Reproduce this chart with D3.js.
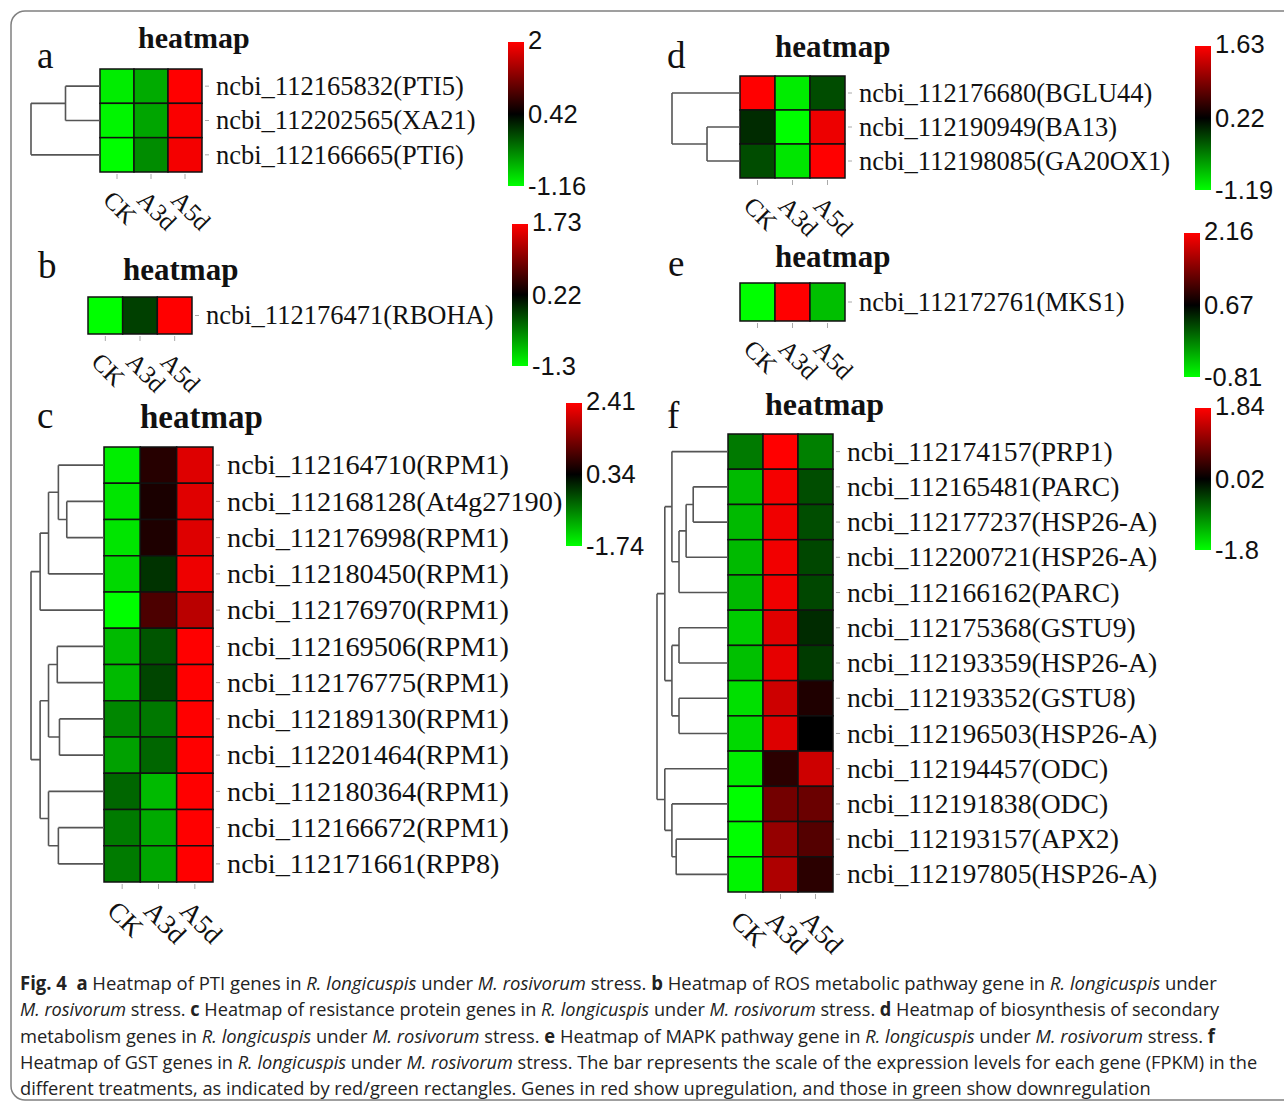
<!DOCTYPE html>
<html>
<head>
<meta charset="utf-8">
<script src="https://cdn.jsdelivr.net/npm/d3@7"></script>
<style>
  body { margin: 0; background: #fff; }
  svg { display: block; }
</style>
</head>
<body>
<svg id="fig" width="1284" height="1105"></svg>
<script>
//////////////// Daten ////////////////////
const columns = ["CK", "A3d", "A5d"];

// a: PTI genes
const genesA = ["ncbi_112165832(PTI5)", "ncbi_112202565(XA21)", "ncbi_112166665(PTI6)"];
const valuesA = [
  [-1.05, -0.64, 2.0],
  [-1.1, -0.6, 1.97],
  [-1.16, -0.45, 1.93]
];
const legendA = [-1.16, 0.42, 2];
const treeA = {h: 1, c: [{h: 0.5, c: [0, 1]}, 2]};

// b: ROS
const genesB = ["ncbi_112176471(RBOHA)"];
const valuesB = [[-1.3, -0.16, 1.73]];
const legendB = [-1.3, 0.22, 1.73];

// c: resistance proteins
const genesC = ["ncbi_112164710(RPM1)", "ncbi_112168128(At4g27190)", "ncbi_112176998(RPM1)",
  "ncbi_112180450(RPM1)", "ncbi_112176970(RPM1)", "ncbi_112169506(RPM1)", "ncbi_112176775(RPM1)",
  "ncbi_112189130(RPM1)", "ncbi_112201464(RPM1)", "ncbi_112180364(RPM1)", "ncbi_112166672(RPM1)",
  "ncbi_112171661(RPP8)"];
const valuesC = [
  [-1.6, 0.65, 2.14],
  [-1.53, 0.55, 2.16],
  [-1.53, 0.58, 2.14],
  [-1.43, -0.08, 2.27],
  [-1.74, 0.96, 1.85],
  [-1.18, -0.35, 2.41],
  [-1.18, -0.22, 2.41],
  [-0.76, -0.64, 2.41],
  [-0.97, -0.49, 2.41],
  [-0.49, -1.18, 2.41],
  [-0.66, -1.05, 2.41],
  [-0.66, -1.01, 2.41]
];
const legendC = [-1.74, 0.34, 2.41];
const treeC = {h: 1, c: [
  {h: 0.875, c: [{h: 0.76, c: [{h: 0.625, c: [0, {h: 0.51, c: [1, 2]}]}, 3]}, 4]},
  {h: 0.875, c: [
    {h: 0.76, c: [{h: 0.64, c: [5, 6]}, {h: 0.61, c: [7, 8]}]},
    {h: 0.76, c: [9, {h: 0.625, c: [10, 11]}]}
  ]}
]};

// d: secondary metabolism
const genesD = ["ncbi_112176680(BGLU44)", "ncbi_112190949(BA13)", "ncbi_112198085(GA20OX1)"];
const valuesD = [
  [1.63, -1.09, -0.2],
  [-0.02, -1.19, 1.53],
  [-0.2, -1.05, 1.63]
];
const legendD = [-1.19, 0.22, 1.63];
const treeD = {h: 1, c: [0, {h: 0.485, c: [1, 2]}]};

// e: MAPK
const genesE = ["ncbi_112172761(MKS1)"];
const valuesE = [[-0.81, 2.16, -0.44]];
const legendE = [-0.81, 0.67, 2.16];

// f: GST
const genesF = ["ncbi_112174157(PRP1)", "ncbi_112165481(PARC)", "ncbi_112177237(HSP26-A)",
  "ncbi_112200721(HSP26-A)", "ncbi_112166162(PARC)", "ncbi_112175368(GSTU9)", "ncbi_112193359(HSP26-A)",
  "ncbi_112193352(GSTU8)", "ncbi_112196503(HSP26-A)", "ncbi_112194457(ODC)", "ncbi_112191838(ODC)",
  "ncbi_112193157(APX2)", "ncbi_112197805(HSP26-A)"];
const valuesF = [
  [-0.85, 1.84, -0.89],
  [-1.31, 1.77, -0.53],
  [-1.31, 1.73, -0.53],
  [-1.31, 1.75, -0.49],
  [-1.29, 1.73, -0.49],
  [-1.44, 1.62, -0.29],
  [-1.35, 1.66, -0.4],
  [-1.58, 1.48, 0.24],
  [-1.53, 1.6, 0.02],
  [-1.67, 0.33, 1.48],
  [-1.8, 0.84, 0.78],
  [-1.8, 1.08, 0.62],
  [-1.73, 1.26, 0.33]
];
const legendF = [-1.8, 0.02, 1.84];
const treeF = {h: 1, c: [
  {h: 0.89, c: [
    {h: 0.79, c: [0, {h: 0.69, c: [{h: 0.59, c: [{h: 0.49, c: [1, 2]}, 3]}, 4]}]},
    {h: 0.79, c: [{h: 0.69, c: [5, 6]}, {h: 0.69, c: [7, 8]}]}
  ]},
  {h: 0.89, c: [9, {h: 0.79, c: [10, {h: 0.73, c: [11, 12]}]}]}
]};

// Bildunterschrift (b = fett, i = kursiv, n = normal)
const captionLines = [
  [["b", "Fig. 4"], ["n", "  "], ["b", "a"], ["n", " Heatmap of PTI genes in "], ["i", "R. longicuspis"], ["n", " under "], ["i", "M. rosivorum"], ["n", " stress. "], ["b", "b"], ["n", " Heatmap of ROS metabolic pathway gene in "], ["i", "R. longicuspis"], ["n", " under"]],
  [["i", "M. rosivorum"], ["n", " stress. "], ["b", "c"], ["n", " Heatmap of resistance protein genes in "], ["i", "R. longicuspis"], ["n", " under "], ["i", "M. rosivorum"], ["n", " stress. "], ["b", "d"], ["n", " Heatmap of biosynthesis of secondary"]],
  [["n", "metabolism genes in "], ["i", "R. longicuspis"], ["n", " under "], ["i", "M. rosivorum"], ["n", " stress. "], ["b", "e"], ["n", " Heatmap of MAPK pathway gene in "], ["i", "R. longicuspis"], ["n", " under "], ["i", "M. rosivorum"], ["n", " stress. "], ["b", "f"]],
  [["n", "Heatmap of GST genes in "], ["i", "R. longicuspis"], ["n", " under "], ["i", "M. rosivorum"], ["n", " stress. The bar represents the scale of the expression levels for each gene (FPKM) in the"]],
  [["n", "different treatments, as indicated by red/green rectangles. Genes in red show upregulation, and those in green show downregulation"]]
];

//////////////// Layout ////////////////////
const SERIF = "'Liberation Serif', 'Times New Roman', serif";
const SANS = "'Liberation Sans', Arial, sans-serif";

const panels = [
  {id: "a", genes: genesA, values: valuesA, legend: legendA, tree: treeA,
    x0: 100, x1: 202, y0: 69, y1: 172, rootX: 31, font: 26.5, colFont: 25, titleFont: 30,
    letter: [37, 68], title: [138, 48], bar: [508, 42, 186]},
  {id: "b", genes: genesB, values: valuesB, legend: legendB, tree: null,
    x0: 88, x1: 192, y0: 297, y1: 334, font: 26.5, colFont: 25, titleFont: 31,
    letter: [38, 278], title: [123, 280], bar: [512, 224, 366]},
  {id: "c", genes: genesC, values: valuesC, legend: legendC, tree: treeC,
    x0: 104, x1: 213, y0: 447, y1: 882, rootX: 31, font: 28.3, colFont: 27, titleFont: 33,
    letter: [37, 428], title: [140, 428], bar: [566, 403, 546]},
  {id: "d", genes: genesD, values: valuesD, legend: legendD, tree: treeD,
    x0: 740, x1: 845, y0: 76, y1: 178, rootX: 672, font: 26.5, colFont: 25, titleFont: 31,
    letter: [667, 68], title: [775, 57], bar: [1195, 46, 190]},
  {id: "e", genes: genesE, values: valuesE, legend: legendE, tree: null,
    x0: 740, x1: 845, y0: 283, y1: 321, font: 26.5, colFont: 25, titleFont: 31,
    letter: [668, 276], title: [775, 267], bar: [1184, 233, 377]},
  {id: "f", genes: genesF, values: valuesF, legend: legendF, tree: treeF,
    x0: 728, x1: 833, y0: 434, y1: 892, rootX: 657, font: 27.6, colFont: 27, titleFont: 32,
    letter: [667, 428], title: [765, 415], bar: [1195, 408, 550]}
];

const svg = d3.select("#fig");
const defs = svg.append("defs");

// Rahmen
svg.append("rect")
  .attr("x", 11).attr("y", 11)
  .attr("width", 1320).attr("height", 1089)
  .attr("rx", 14)
  .attr("fill", "none")
  .attr("stroke", "#808080")
  .attr("stroke-width", 1.5);

function drawPanel(p) {
  const g = svg.append("g").attr("class", "panel-" + p.id);
  const x = d3.scaleBand().domain(columns).range([p.x0, p.x1]);
  const y = d3.scaleBand().domain(d3.range(p.genes.length)).range([p.y0, p.y1]);
  const color = d3.scaleLinear().domain(p.legend).range(["#00ff00", "#000000", "#ff0000"]);

  // Kacheln
  const cells = [];
  p.values.forEach((row, i) => row.forEach((v, j) => cells.push({i: i, col: columns[j], v: v})));
  g.selectAll("rect.cell")
    .data(cells)
    .enter()
    .append("rect")
    .attr("class", "cell")
    .attr("x", d => x(d.col))
    .attr("y", d => y(d.i))
    .attr("width", x.bandwidth())
    .attr("height", y.bandwidth())
    .attr("fill", d => color(d.v))
    .attr("stroke", "#111")
    .attr("stroke-width", 1.5);

  // Spaltenbeschriftung (gedreht)
  const xAxis = g.append("g")
    .attr("transform", "translate(0," + (p.y1 + 2) + ")")
    .call(d3.axisBottom(x).tickSize(5).tickSizeOuter(0));
  xAxis.select(".domain").remove();
  xAxis.selectAll("line").attr("stroke", "#aaa");
  xAxis.selectAll("text")
    .style("font-family", SERIF)
    .style("font-size", p.colFont + "px")
    .attr("fill", "#111")
    .attr("text-anchor", "start")
    .attr("x", 0).attr("y", 0).attr("dy", "0.7em")
    .attr("transform", "translate(-3,15) rotate(45)");

  // Zeilenbeschriftung
  const yAxis = g.append("g")
    .attr("transform", "translate(" + (p.x1 + 3) + ",0)")
    .call(d3.axisRight(y).tickSize(4).tickSizeOuter(0).tickPadding(7).tickFormat(i => p.genes[i]));
  yAxis.select(".domain").remove();
  yAxis.selectAll("line").attr("stroke", "#aaa");
  yAxis.selectAll("text")
    .style("font-family", SERIF)
    .style("font-size", p.font + "px")
    .attr("fill", "#111")
    .attr("dy", "0.33em");

  // Dendrogramm
  if (p.tree) {
    const hx = d3.scaleLinear().domain([0, 1]).range([p.x0, p.rootX]);
    const root = d3.hierarchy(p.tree, d => d.c);
    root.eachAfter(n => {
      if (n.children) {
        n.px = hx(n.data.h);
        n.py = (n.children[0].py + n.children[n.children.length - 1].py) / 2;
      } else {
        n.px = p.x0;
        n.py = y(n.data) + y.bandwidth() / 2;
      }
    });
    g.selectAll("path.link")
      .data(root.descendants().filter(n => n.children))
      .enter()
      .append("path")
      .attr("class", "link")
      .attr("d", n => n.children.map(c => "M" + c.px + "," + c.py + "H" + n.px).join("") +
        "M" + n.px + "," + n.children[0].py + "V" + n.children[n.children.length - 1].py)
      .attr("fill", "none")
      .attr("stroke", "#555")
      .attr("stroke-width", 1.6);
  }

  // Farbleiste
  const [bx, by0, by1] = p.bar;
  const ls = d3.scaleLinear().domain([p.legend[0], p.legend[2]]).range([by1, by0]);
  const grad = defs.append("linearGradient")
    .attr("id", "grad-" + p.id)
    .attr("x1", 0).attr("y1", 1).attr("x2", 0).attr("y2", 0);
  grad.selectAll("stop")
    .data(p.legend)
    .enter()
    .append("stop")
    .attr("offset", d => (d - p.legend[0]) / (p.legend[2] - p.legend[0]))
    .attr("stop-color", d => color(d));
  g.append("rect")
    .attr("x", bx).attr("y", by0)
    .attr("width", 16).attr("height", by1 - by0)
    .attr("fill", "url(#grad-" + p.id + ")");
  const lAxis = g.append("g")
    .attr("transform", "translate(" + (bx + 16) + ",0)")
    .call(d3.axisRight(ls).tickValues(p.legend).tickSize(0).tickPadding(4).tickFormat(d => String(d)));
  lAxis.select(".domain").remove();
  lAxis.selectAll("text")
    .style("font-family", SANS)
    .style("font-size", "25.5px")
    .attr("fill", "#111")
    .attr("dy", (d, i) => i === 0 ? "0.35em" : (i === 2 ? "0.25em" : "0.33em"));

  // Buchstabe und Titel
  g.append("text")
    .attr("x", p.letter[0]).attr("y", p.letter[1])
    .style("font-family", SERIF)
    .style("font-size", "37px")
    .attr("fill", "#111")
    .text(p.id);
  g.append("text")
    .attr("x", p.title[0]).attr("y", p.title[1])
    .style("font-family", SERIF)
    .style("font-size", p.titleFont + "px")
    .style("font-weight", "bold")
    .attr("fill", "#111")
    .text("heatmap");
}

panels.forEach(drawPanel);

// Bildunterschrift
const capEnds = [1218, 1220, 1216, 1258, 1152];
const capBase = [990, 1016, 1043, 1069, 1095];
captionLines.forEach((line, k) => {
  const t = svg.append("text")
    .style("font-family", "'Open Sans', 'Noto Sans', sans-serif")
    .style("font-size", "19px")
    .style("white-space", "pre")
    .attr("fill", "#222");
  t.selectAll("tspan")
    .data(line)
    .enter()
    .append("tspan")
    .style("font-weight", d => d[0] === "b" ? "bold" : "normal")
    .style("font-style", d => d[0] === "i" ? "italic" : "normal")
    .text(d => d[1]);
  const w = t.node().getComputedTextLength();
  t.attr("transform", "translate(20," + capBase[k] + ") scale(" + ((capEnds[k] - 20) / w) + ",1)");
});
</script>
</body>
</html>
